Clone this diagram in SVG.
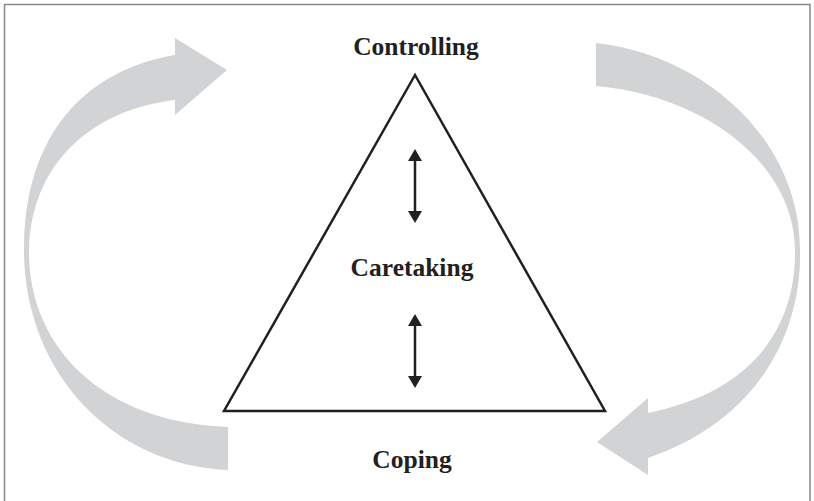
<svg xmlns="http://www.w3.org/2000/svg" width="814" height="501" viewBox="0 0 814 501">
<style>
.band{fill:#d1d3d4;stroke:none}
.lbl{font-family:"Liberation Serif","Times New Roman",serif;font-weight:bold;font-size:25.5px;fill:#231f20;text-anchor:middle}
.tri{fill:none;stroke:#231f20;stroke-width:2.5;stroke-linejoin:miter}
.dbl{stroke:#231f20;stroke-width:2.5;fill:none}
</style>
<defs>
<marker id="head" viewBox="0 0 12 14" refX="9" refY="7" markerWidth="12" markerHeight="14" markerUnits="userSpaceOnUse" orient="auto-start-reverse">
<path d="M0,0 L12,7 L0,14 z" fill="#231f20"/>
</marker>
</defs>
<rect x="4.5" y="4.5" width="805.5" height="510" fill="none" stroke="#8a8a8a" stroke-width="1.5"/>
<g id="cycle-left">
<path class="band" d="M227,70 L175,38 L175,55 C85,70 24,135 24,250 C24,370 110,465 228,470 L228,427 C100,422 28,345 29,250 C31,165 90,110 175,100 L175,115 Z"/>
</g>
<g id="cycle-right">
<path class="band" d="M596,43 C705,55 800,140 800,250 C802,330 760,420 648,458 L648,475 L597,442 L648,398 L648,413 C760,390 796,320 795,250 C794,160 700,95 596,86 Z"/>
</g>
<g id="triangle">
<polygon class="tri" points="415,75 224,411 605,411"/>
</g>
<g id="controlling"><text class="lbl" x="416" y="55">Controlling</text></g>
<g id="caretaking"><text class="lbl" x="412" y="276">Caretaking</text></g>
<g id="coping"><text class="lbl" x="412" y="468">Coping</text></g>
<g id="connectors">
<line class="dbl" x1="415" y1="152" x2="415" y2="220" marker-start="url(#head)" marker-end="url(#head)"/>
<line class="dbl" x1="415" y1="317" x2="415" y2="385" marker-start="url(#head)" marker-end="url(#head)"/>
</g>
</svg>
